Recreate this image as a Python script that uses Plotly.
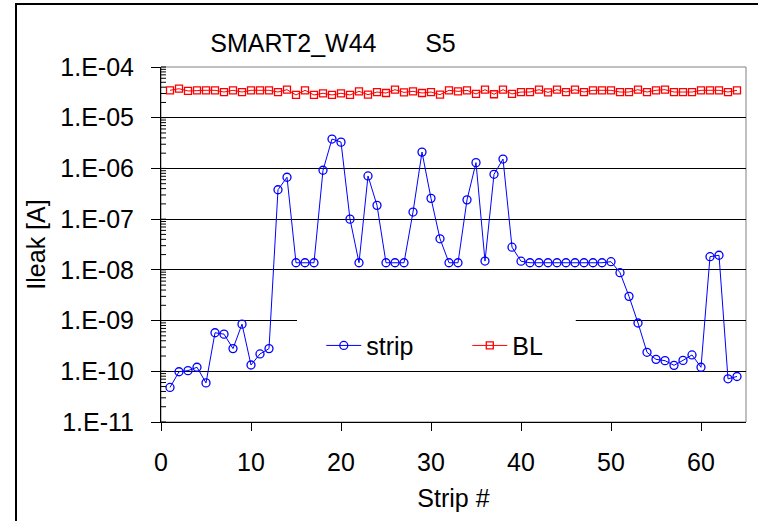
import math
import plotly.graph_objects as go

strips = list(range(1, 65))

strip_ileak = [
    4.8e-11, 9.8e-11, 1.03e-10, 1.2e-10, 5.9e-11, 5.75e-10, 5.4e-10, 2.8e-10,
    8.5e-10, 1.33e-10, 2.2e-10, 2.8e-10, 3.8e-07, 6.7e-07, 1.38e-08, 1.38e-08,
    1.38e-08, 9.2e-07, 3.8e-06, 3.3e-06, 1.0e-07, 1.38e-08, 7.1e-07, 1.87e-07,
    1.38e-08, 1.38e-08, 1.38e-08, 1.38e-07, 2.1e-06, 2.57e-07, 4.1e-08, 1.38e-08,
    1.38e-08, 2.4e-07, 1.3e-06, 1.49e-08, 7.65e-07, 1.53e-06, 2.8e-08, 1.48e-08,
    1.38e-08, 1.38e-08, 1.38e-08, 1.38e-08, 1.38e-08, 1.38e-08, 1.38e-08, 1.38e-08,
    1.38e-08, 1.45e-08, 8.8e-09, 3.0e-09, 8.95e-10, 2.37e-10, 1.72e-10, 1.62e-10,
    1.31e-10, 1.64e-10, 2.1e-10, 1.2e-10, 1.82e-08, 1.94e-08, 7.1e-11, 7.9e-11,
]

bl_ileak = [
    3.47e-05, 3.73e-05, 3.37e-05, 3.47e-05, 3.47e-05, 3.47e-05, 3.21e-05, 3.47e-05,
    3.21e-05, 3.47e-05, 3.47e-05, 3.47e-05, 3.21e-05, 3.57e-05, 2.81e-05, 3.47e-05,
    2.81e-05, 3.03e-05, 2.81e-05, 3.03e-05, 2.81e-05, 3.31e-05, 2.85e-05, 3.21e-05,
    3.07e-05, 3.57e-05, 3.16e-05, 3.31e-05, 3.07e-05, 3.21e-05, 2.85e-05, 3.47e-05,
    3.31e-05, 3.47e-05, 2.94e-05, 3.57e-05, 2.9e-05, 3.57e-05, 2.94e-05, 3.21e-05,
    3.21e-05, 3.57e-05, 3.16e-05, 3.57e-05, 3.21e-05, 3.57e-05, 3.21e-05, 3.47e-05,
    3.47e-05, 3.47e-05, 3.21e-05, 3.21e-05, 3.57e-05, 3.21e-05, 3.47e-05, 3.57e-05,
    3.21e-05, 3.21e-05, 3.21e-05, 3.47e-05, 3.47e-05, 3.47e-05, 3.21e-05, 3.47e-05,
]

y_tick_vals = [1e-11, 1e-10, 1e-09, 1e-08, 1e-07, 1e-06, 1e-05, 1e-04]
y_tick_text = ["1.E-11", "1.E-10", "1.E-09", "1.E-08", "1.E-07", "1.E-06", "1.E-05", "1.E-04"]
Y_LOG_RANGE = [-11, -4]

# inner tick positions of the log axis (1..9 within each decade)
inner_tick_vals = [m * d for d in y_tick_vals[:-1] for m in range(1, 10)] + [y_tick_vals[-1]]

FONT = "Liberation Sans, Arial, sans-serif"
PLOT_W = 585

fig = go.Figure()
fig.add_trace(go.Scatter(
    x=strips, y=strip_ileak, name="strip", mode="lines+markers",
    line=dict(color="#0000FF", width=1),
    marker=dict(symbol="circle-open", size=8, color="#0000FF", line=dict(width=1.3, color="#0000FF")),
))
fig.add_trace(go.Scatter(
    x=strips, y=bl_ileak, name="BL", mode="lines+markers",
    line=dict(color="#FF0000", width=1),
    marker=dict(symbol="square-open", size=7, color="#FF0000", line=dict(width=1.3, color="#FF0000")),
))

shapes = [
    dict(type="rect", xref="paper", yref="paper", x0=0, x1=1, y0=0, y1=1,
         line=dict(color="#808080", width=1), layer="below"),
    dict(type="rect", xref="paper", yref="paper", x0=0.2325, x1=0.709, y0=0.158, y1=0.344,
         line=dict(width=0), fillcolor="white", layer="above"),
    dict(type="rect", xref="paper", yref="paper", x0=(16 - 161) / 585, x1=1.5,
         y0=-1.0, y1=1 + (67 - 4) / 355, line=dict(color="black", width=2)),
]
span = Y_LOG_RANGE[1] - Y_LOG_RANGE[0]
for v in inner_tick_vals:
    yp = (math.log10(v) - Y_LOG_RANGE[0]) / span
    shapes.append(dict(type="line", xref="paper", yref="paper", x0=0, x1=5 / PLOT_W,
                       y0=yp, y1=yp, line=dict(color="black", width=1), layer="above"))

fig.update_layout(
    width=758, height=521,
    margin=dict(l=161, r=12, t=67, b=99),
    paper_bgcolor="white", plot_bgcolor="white",
    font=dict(family=FONT, size=25, color="black"),
    title=dict(text="SMART2_W44\u00a0\u00a0\u00a0\u00a0\u00a0\u00a0\u00a0S5",
               x=(209 + 457) / 2 / 758, xanchor="center", y=1 - 43 / 521, yanchor="middle",
               font=dict(size=25)),
    showlegend=True,
    legend=dict(orientation="h", x=0.274, xanchor="left", y=0.215, yanchor="middle",
                bgcolor="rgba(0,0,0,0)", font=dict(size=25), entrywidth=96, itemwidth=35),
    shapes=shapes,
)

fig.update_xaxes(
    range=[0, 65], dtick=10, tick0=0, showgrid=False, zeroline=False,
    showline=True, linecolor="black", linewidth=1,
    ticks="outside", ticklen=8, tickcolor="black",
    ticklabelstandoff=10,
    title=dict(text="Strip #", font=dict(size=25), standoff=14),
)
fig.update_yaxes(
    type="log", range=Y_LOG_RANGE, tickmode="array", tickvals=y_tick_vals, ticktext=y_tick_text,
    showgrid=True, gridcolor="black", gridwidth=1, zeroline=False,
    showline=True, linecolor="black", linewidth=1,
    ticks="outside", ticklen=9, tickcolor="black",
    ticklabelstandoff=12,
    title=dict(text="Ileak [A]", font=dict(size=25), standoff=7),
)

fig.write_html("out.html")
